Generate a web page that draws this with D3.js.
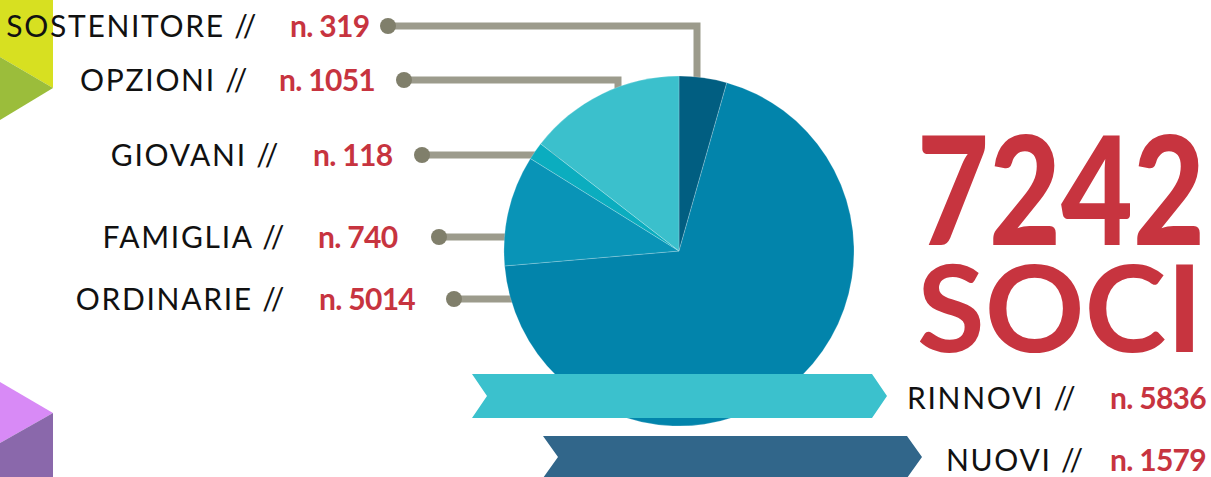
<!DOCTYPE html>
<html>
<head>
<meta charset="utf-8">
<script src="https://cdn.jsdelivr.net/npm/d3@7"></script>
<style>
  body { margin: 0; background: #fff; }
  svg { display: block; }
</style>
</head>
<body>
<div id="chart"></div>
<script>
// pie slices, clockwise from 12 o'clock
const categories = ['SOSTENITORE', 'ORDINARIE', 'FAMIGLIA', 'GIOVANI', 'OPZIONI']
const values = [319, 5014, 740, 118, 1051]
const sliceColors = ['#015e81', '#0284ab', '#0994b7', '#0badbf', '#3bc0cc']

// labels on the left, top to bottom
const labelOrder = ['SOSTENITORE', 'OPZIONI', 'GIOVANI', 'FAMIGLIA', 'ORDINARIE']

// renewals / new members
const memberTypes = ['RINNOVI', 'NUOVI']
const memberValues = [5836, 1579]

const total = 7242
const totalLabel = 'SOCI'

const width = 1211
const height = 477

const svg = d3
  .select('#chart')
  .append('svg')
  .attr('width', width)
  .attr('height', height)

const red = '#c7343f'
const cx = 679
const cy = 251
const radius = 175

// corner decorations
svg.append('polygon').attr('points', '0,0 53,0 53,88 0,57').attr('fill', '#d7e021')
svg.append('polygon').attr('points', '0,57 53,88 0,120').attr('fill', '#9bbd3b')
svg.append('polygon').attr('points', '0,382 53,413 0,443').attr('fill', '#d88af6')
svg.append('polygon').attr('points', '0,443 53,413 53,477 0,477').attr('fill', '#8a68ab')

// layout of left rows (same order as labelOrder)
const rowBaseline = [37, 91, 166, 248, 310]
const rowLabelEnd = [258, 249, 280, 286, 286]
const rowNumStart = [290, 279, 313, 318, 319]
const rowDotX = [388, 404, 422, 439, 454]
const elbowX = { SOSTENITORE: 697, OPZIONI: 618 }

const valueOf = name => values[categories.indexOf(name)]

// leader lines (behind the pie)
const leaders = svg.append('g')
labelOrder.forEach((name, i) => {
  const y = rowBaseline[i] - 11
  let pts
  if (elbowX[name]) {
    pts = [[rowDotX[i], y], [elbowX[name], y], [elbowX[name], cy - 100]]
  } else {
    pts = [[rowDotX[i], y], [cx - 60, y]]
  }
  leaders
    .append('path')
    .attr('d', d3.line()(pts))
    .attr('fill', 'none')
    .attr('stroke', '#9c9b8c')
    .attr('stroke-width', 7)
  leaders
    .append('circle')
    .attr('cx', rowDotX[i])
    .attr('cy', y)
    .attr('r', 8)
    .attr('fill', '#807f6b')
})

// pie
const pie = d3.pie().sort(null).value(d => d)
const arc = d3.arc().innerRadius(0).outerRadius(radius)

svg
  .append('g')
  .attr('transform', 'translate(' + cx + ',' + cy + ')')
  .selectAll('path')
  .data(pie(values))
  .enter()
  .append('path')
  .attr('d', arc)
  .attr('fill', (d, i) => sliceColors[i])
  .attr('stroke', 'rgba(255,255,255,0.35)')
  .attr('stroke-width', 0.6)

// left labels
labelOrder.forEach((name, i) => {
  svg
    .append('text')
    .attr('x', rowLabelEnd[i])
    .attr('y', rowBaseline[i])
    .attr('text-anchor', 'end')
    .attr('font-family', 'Lato, sans-serif')
    .attr('font-size', 30)
    .attr('letter-spacing', 1.7)
    .attr('fill', '#111')
    .text(name + ' //')
  svg
    .append('text')
    .attr('x', rowNumStart[i])
    .attr('y', rowBaseline[i])
    .attr('font-family', 'Lato, sans-serif')
    .attr('font-weight', 700)
    .attr('font-size', 30)
    .attr('letter-spacing', -0.7)
    .attr('fill', red)
    .text('n. ' + valueOf(name))
})

// ribbons
const ribbons = [
  { x0: 472, x1: 887, y0: 374, y1: 418, color: '#3bc1cd' },
  { x0: 543, x1: 922, y0: 436, y1: 478, color: '#31668a' }
]
ribbons.forEach(r => {
  const mid = (r.y0 + r.y1) / 2
  const n = 15
  svg
    .append('polygon')
    .attr('points', [
      [r.x0, r.y0], [r.x1 - n, r.y0], [r.x1, mid],
      [r.x1 - n, r.y1], [r.x0, r.y1], [r.x0 + n, mid]
    ].join(' '))
    .attr('fill', r.color)
})

const memberBaseline = [409, 471]
const memberLabelX = [907, 946]
const memberNumEnd = [1206, 1206]
memberTypes.forEach((name, i) => {
  svg
    .append('text')
    .attr('x', memberLabelX[i])
    .attr('y', memberBaseline[i])
    .attr('font-family', 'Lato, sans-serif')
    .attr('font-size', 30)
    .attr('letter-spacing', 1.7)
    .attr('fill', '#111')
    .text(name + ' //')
  svg
    .append('text')
    .attr('x', memberNumEnd[i])
    .attr('y', memberBaseline[i])
    .attr('text-anchor', 'end')
    .attr('font-family', 'Lato, sans-serif')
    .attr('font-weight', 700)
    .attr('font-size', 30)
    .attr('letter-spacing', -0.7)
    .attr('fill', red)
    .text('n. ' + memberValues[i])
})

// big total: squeeze horizontally to the reference width
function bigText(txt, x, y, size, weight, targetWidth) {
  const t = svg
    .append('text')
    .attr('font-family', 'Lato, sans-serif')
    .attr('font-weight', weight)
    .attr('font-size', size)
    .attr('fill', red)
    .text(txt)
  const w = t.node().getComputedTextLength()
  t.attr('transform', 'translate(' + x + ',' + y + ') scale(' + targetWidth / w + ',1)')
}

bigText(total, 917, 245, 150, 900, 288)
bigText(totalLabel, 917, 352, 121, 700, 286)
</script>
</body>
</html>
